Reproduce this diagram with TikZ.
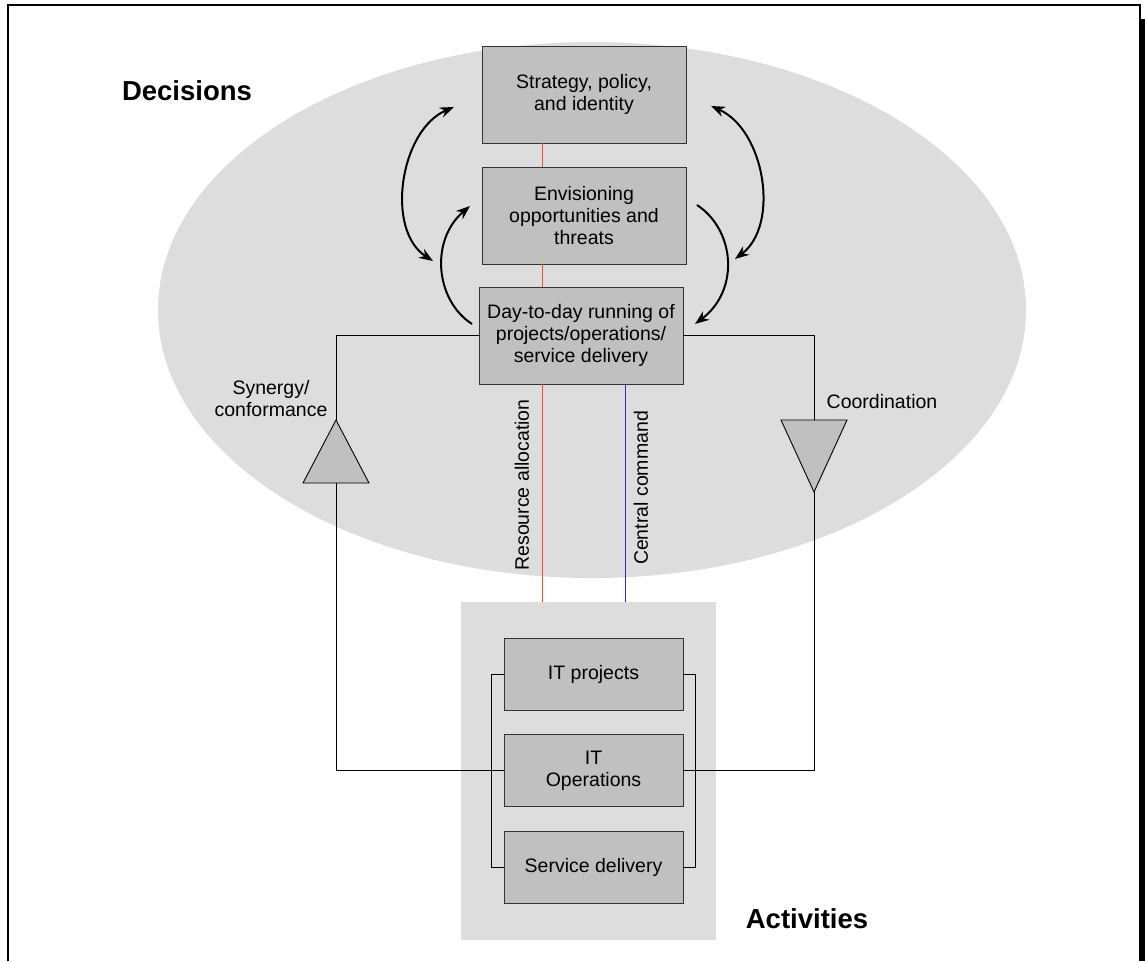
\documentclass[tikz,border=0pt]{standalone}
\usepackage{fontspec}
\setmainfont{Liberation Sans}
\usetikzlibrary{arrows.meta}
\definecolor{decgray}{gray}{0.867}
\definecolor{boxgray}{gray}{0.753}
\definecolor{resred}{RGB}{240,80,45}
\definecolor{cmdblue}{RGB}{45,45,215}

\begin{document}
\begin{tikzpicture}[x=1pt, y=-1pt, >={Stealth[length=14pt,width=10.5pt]},
    every node/.style={font=\fontsize{19.5}{22}\selectfont},
    levelbox/.style={draw=black!80, fill=boxgray, line width=0.9pt, align=center, inner sep=0pt, minimum width=204pt, minimum height=97pt},
    workbox/.style={levelbox, minimum width=179pt, minimum height=72pt},
    wire/.style={line width=0.9pt},
    turn/.style={line width=2pt},
    heading/.style={font=\fontsize{27.5}{30}\selectfont\bfseries}]
    \useasboundingbox (0,0) rectangle (1145,961);

    \fill[decgray] (592,310) ellipse [x radius=434, y radius=268];
    \node[fill=decgray, minimum width=255pt, minimum height=338pt, inner sep=0pt] (actbox) at (588.5,771) {};

    \draw[line width=1.3pt] (8,961) -- (8,5) -- (1140,5) -- (1140,961);
    \fill (1140,19) rectangle (1145,961);

    \node[levelbox] (strategy) at (584,94.5) {Strategy, policy,\\and identity};
    \node[levelbox] (envision) at (584,215.5) {Envisioning\\opportunities and\\threats};
    \node[levelbox] (dayrun) at (581,335.5) {Day-to-day running of\\projects/operations/\\service delivery};
    \node[workbox] (itproj) at (593.5,674) {IT projects};
    \node[workbox] (itops) at (593.5,770.5) {IT\\Operations};
    \node[workbox] (service) at (593.5,867) {Service delivery};

    \coordinate (ra) at (542,0);
    \coordinate (cc) at (625,0);
    \draw[wire, resred] (strategy.south -| ra) -- (envision.north -| ra)
        (envision.south -| ra) -- (dayrun.north -| ra)
        (dayrun.south -| ra) -- (actbox.north -| ra);
    \draw[wire, cmdblue] (dayrun.south -| cc) -- (actbox.north -| cc);

    \coordinate (syntop) at (336,420);
    \coordinate (synbot) at (336,483);
    \coordinate (cootop) at (814,420);
    \coordinate (coobot) at (814,492);
    \draw[wire, fill=boxgray] (syntop) -- ++(-33,63) -- ++(66,0) -- cycle;
    \draw[wire, fill=boxgray] (coobot) -- ++(-33,-72) -- ++(66,0) -- cycle;
    \draw[wire] (dayrun.west) -| (syntop);
    \draw[wire] (synbot) |- (itops.west);
    \draw[wire] (dayrun.east) -| (cootop);
    \draw[wire] (coobot) |- (itops.east);
    \draw[wire] (itproj.west) -- ++(-12,0) |- (service.west);
    \draw[wire] (itproj.east) -- ++(12,0) |- (service.east);

    \coordinate (lo1) at (454,107);
    \coordinate (lo2) at (433,261);
    \coordinate (li1) at (472,324);
    \coordinate (li2) at (470,206);
    \coordinate (ro1) at (711,106);
    \coordinate (ro2) at (735,259);
    \coordinate (ri1) at (697,205);
    \coordinate (ri2) at (695,324);
    \draw[turn, <->] (lo1) .. controls (400,130) and (385,230) .. (lo2);
    \draw[turn, ->] (li1) .. controls (435,300) and (430,240) .. (li2);
    \draw[turn, <->] (ro1) .. controls (765,130) and (780,225) .. (ro2);
    \draw[turn, ->] (ri1) .. controls (735,230) and (740,290) .. (ri2);

    \node[align=center] (synlabel) at (271,399) {Synergy/\\conformance};
    \node (coolabel) at (882,402) {Coordination};
    \node[rotate=90] (ralabel) at (522,485) {Resource allocation};
    \node[rotate=90] (cclabel) at (641,488) {Central command};
    \node[heading] (decisions) at (187,91) {Decisions};
    \node[heading] (activities) at (807,919) {Activities};
\end{tikzpicture}
\end{document}
